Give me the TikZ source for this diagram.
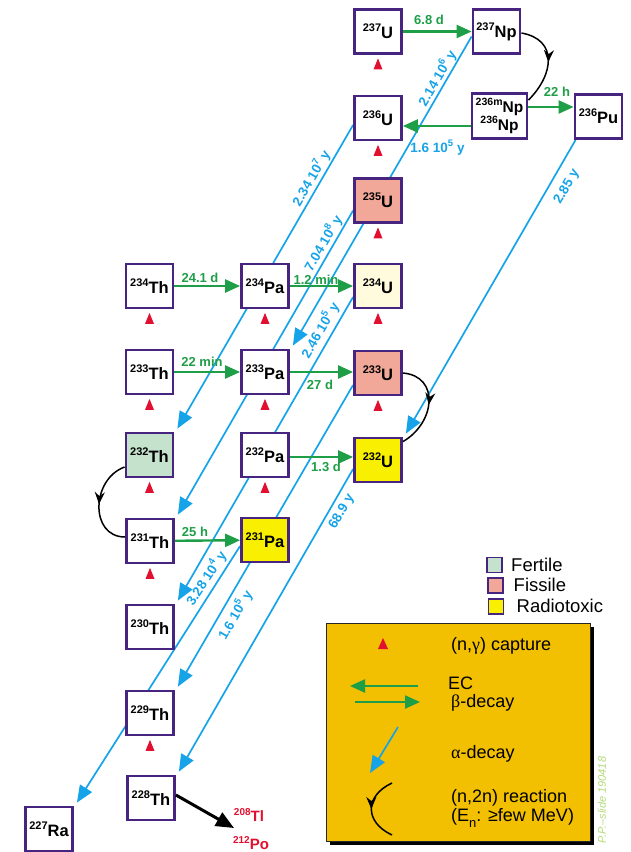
\documentclass[tikz,border=0pt]{standalone}
\usepackage{fontspec}
\setmainfont{Liberation Sans}
\newfontfamily\grk{Liberation Serif}
\usetikzlibrary{arrows.meta,calc,decorations.markings,shadows}
\pgfdeclarelayer{background}
\pgfsetlayers{background,main}

\definecolor{boxpurple}{RGB}{70,36,128}
\definecolor{fertile}{RGB}{197,226,204}
\definecolor{fissile}{RGB}{241,168,152}
\definecolor{cream}{RGB}{255,251,220}
\definecolor{toxic}{RGB}{248,240,0}
\definecolor{alphablue}{RGB}{22,163,232}
\definecolor{betagreen}{RGB}{30,158,70}
\definecolor{capred}{RGB}{226,16,48}
\definecolor{legorange}{RGB}{242,192,0}
\definecolor{slidegreen}{RGB}{178,218,120}

\newcommand{\iso}[3][11]{\raisebox{0.42em}{\fontsize{#1}{#1}\selectfont #2}#3}
\newcommand{\expo}[1]{\raisebox{0.45em}{\fontsize{9.5}{9.5}\selectfont #1}}
\newcommand{\captri}[1]{\fill[capred] ($(#1.south)+(0,-3.5)$) -- ++(4.5,-11) -- ++(-9,0) -- cycle;}

\begin{document}
\begin{tikzpicture}[x=1pt,y=1pt,
  box/.style={draw=boxpurple, line width=2.8pt, fill=white, minimum width=47pt,
    minimum height=44pt, inner sep=0pt, font=\fontsize{16.5}{16.5}\selectfont\bfseries},
  beta/.style={draw=betagreen, line width=2.4pt, -{Triangle[length=15pt,width=13pt]}},
  alpha/.style={draw=alphablue, line width=1.7pt, -{Triangle[length=17pt,width=14pt]}},
  blab/.style={text=alphablue, font=\fontsize{13.5}{13.5}\selectfont\bfseries, inner sep=0pt},
  glab/.style={text=betagreen, font=\fontsize{13}{13}\selectfont\bfseries, inner sep=0pt},
  n2n/.style={draw=black, line width=1.5pt, postaction={decorate},
    decoration={markings, mark=at position 0.5 with {\arrow{Stealth[length=12pt,width=10pt,inset=4pt]}}}},
  legtext/.style={font=\fontsize{18}{18}\selectfont, anchor=west, inner sep=0pt},
  legbox/.style={draw=boxpurple, line width=1.2pt, minimum width=15pt, minimum height=15pt, inner sep=0pt},
]
\useasboundingbox (0,0) rectangle (630,-852);

% boxes
\node[box] (u237) at (378,-31.5) {\iso{237}{U}};
\node[box] (np237) at (496.5,-31.5) {\iso{237}{Np}};
\node[box] (u236) at (378,-118) {\iso{236}{U}};
\node[box, minimum width=55pt, minimum height=45pt, align=center,
  font=\fontsize{15.5}{17}\selectfont\bfseries] (np236) at (499.5,-116) {\iso[10.5]{236m}{Np}\\\iso[10.5]{236}{Np}};
\node[box] (pu236) at (598.5,-116.5) {\iso{236}{Pu}};
\node[box, fill=fissile] (u235) at (378,-200.5) {\iso{235}{U}};
\node[box] (th234) at (149.5,-286) {\iso{234}{Th}};
\node[box] (pa234) at (265,-286) {\iso{234}{Pa}};
\node[box, fill=cream] (u234) at (378,-286) {\iso{234}{U}};
\node[box] (th233) at (149.5,-372) {\iso{233}{Th}};
\node[box] (pa233) at (265,-372) {\iso{233}{Pa}};
\node[box, fill=fissile] (u233) at (378,-373) {\iso{233}{U}};
\node[box, fill=fertile] (th232) at (149.5,-455) {\iso{232}{Th}};
\node[box] (pa232) at (265,-455) {\iso{232}{Pa}};
\node[box, fill=toxic] (u232) at (378,-460) {\iso{232}{U}};
\node[box] (th231) at (150,-541) {\iso{231}{Th}};
\node[box, fill=toxic] (pa231) at (265,-540) {\iso{231}{Pa}};
\node[box] (th230) at (150,-627) {\iso{230}{Th}};
\node[box] (th229) at (150,-713) {\iso{229}{Th}};
\node[box] (th228) at (151,-798) {\iso{228}{Th}};
\node[box] (ra227) at (49,-829) {\iso{227}{Ra}};

% capture triangles
\captri{u237}\captri{u236}\captri{u235}
\captri{th234}\captri{pa234}\captri{u234}
\captri{th233}\captri{pa233}\captri{u233}
\captri{th232}\captri{pa232}
\captri{th231}\captri{th229}

% alpha decays
\begin{pgfonlayer}{background}
\draw[alpha] ($(np237.west)+(0,-5)$) -- ($(pa233.north east)+(3,3)$);
\draw[alpha] ($(u236.west)+(0,-7)$) -- ($(th232.north east)+(3,3)$);
\draw[alpha] ($(u235.west)+(0,-10)$) -- ($(th231.north east)+(3,3)$);
\draw[alpha] ($(u234.west)+(0,-11)$) -- ($(th230.north east)+(3,3)$);
\draw[alpha] ($(u233.west)+(0,-12)$) -- ($(th229.north east)+(3,3)$);
\draw[alpha] ($(u232.west)+(0,-9)$) -- ($(th228.north east)+(3,3)$);
\draw[alpha] ($(pu236.south west)+(2,0)$) -- ($(u232.north east)+(3,3)$);
\draw[alpha] ($(pa231.west)+(0,-6)$) -- ($(ra227.north east)+(3,3)$);
\end{pgfonlayer}

\node[blab, rotate=60] (l1) at (437,-78) {2.14 10\expo{6} y};
\node[blab, rotate=60] (l2) at (311,-178) {2.34 10\expo{7} y};
\node[blab, rotate=60] (l3) at (323,-243) {7.04 10\expo{8} y};
\node[blab, rotate=60] (l4) at (320,-330) {2.46 10\expo{5} y};
\node[blab, rotate=60] (l5) at (235,-615) {1.6 10\expo{5} y};
\node[blab, rotate=60] (l6) at (342,-512) {68.9 y};
\node[blab, rotate=60] (l7) at (567,-187) {2.85 y};
\node[blab, rotate=57] (l8) at (206,-578) {3.28 10\expo{4} y};
\node[blab] (l9) at (437.5,-147.5) {1.6 10\expo{5} y};

% beta decays / EC
\draw[beta] (u237) -- (np237);
\node[glab] (g1) at (429,-20) {6.8 d};
\draw[beta] ($(np236.east)+(0,9)$) -- ($(pu236.west)+(0,9.5)$);
\node[glab] (g2) at (557,-92) {22 h};
\coordinate (ecs) at ($(np236.west)+(0,-10)$);
\draw[beta] (ecs) -- (ecs -| u236.east);
\draw[beta] (th234) -- (pa234);
\node[glab] (g3) at (200,-278) {24.1 d};
\draw[beta] (pa234) -- (u234);
\node[glab] (g4) at (316,-280) {1.2 min};
\draw[beta] (th233) -- (pa233);
\node[glab] (g5) at (202,-362) {22 min};
\draw[beta] (pa233) -- (pa233 -| u233.west);
\node[glab] (g6) at (320,-385) {27 d};
\draw[beta] ($(pa232.east)+(0,-2)$) -- ($(pa232.east -| u232.west)+(0,-2)$);
\node[glab] (g7) at (326,-467) {1.3 d};
\draw[beta] (th231) -- (pa231);
\node[glab] (g8) at (195,-532) {25 h};

% (n,2n)
\draw[n2n] ($(np237.east)+(0,-1.5)$) to[out=-10,in=45,looseness=1.4] ($(np236.north east)+(0,-8)$);
\draw[n2n] (u233.east) to[out=-5,in=30,looseness=1.4] ($(u232.north east)+(0,-5)$);
\draw[n2n] ($(th232.west)+(0,-12)$) to[out=200,in=180,looseness=1.3] ($(th231.west)+(0,4)$);

% 228Th decay products
\node[text=capred, font=\fontsize{15}{15}\selectfont\bfseries, inner sep=0pt] (tl) at (249,-815) {\iso[10]{208}{Tl}};
\node[text=capred, font=\fontsize{15}{15}\selectfont\bfseries, inner sep=0pt] (po) at (251,-843) {\iso[10]{212}{Po}};
\coordinate (tltip) at (234,-828);
\draw[line width=3pt, -{Triangle[length=18pt,width=15pt]}] ($(th228.east)+(0,3)$) -- (tltip);

% legend colour keys
\node[legbox, fill=fertile] (kf) at (494.5,-565) {};
\node[legbox, fill=fissile] (ks) at (495.5,-585.5) {};
\node[legbox, fill=toxic] (kr) at (496,-606.5) {};
\node[legtext, font=\fontsize{18.5}{18.5}\selectfont] (tf) at (511,-565) {Fertile};
\node[legtext, font=\fontsize{18.5}{18.5}\selectfont] (ts) at (513.5,-585) {Fissile};
\node[legtext, font=\fontsize{18.5}{18.5}\selectfont] (tr) at (516.5,-605.5) {Radiotoxic};

% legend frame
\node[draw=black!85, line width=0.8pt, fill=legorange, minimum width=264pt, minimum height=218pt,
  drop shadow={fill=black, opacity=1, shadow xshift=3.5pt, shadow yshift=-3.5pt}] (leg) at (458.5,-732.5) {};
\fill[capred] (383,-638) -- (388,-649) -- (378,-649) -- cycle;
\node[legtext] (t1) at (451,-645.5) {(n,{\grk γ}) capture};
\coordinate (ec1) at (418,-686);
\coordinate (ec2) at (350,-686);
\coordinate (bd1) at (355,-702);
\coordinate (bd2) at (420,-702);
\draw[beta] (ec1) -- (ec2);
\draw[beta] (bd1) -- (bd2);
\node[legtext] (t2) at (448,-683) {EC};
\node[legtext] (t3) at (451,-703) {{\grk β}-decay};
\coordinate (ad1) at (398,-727);
\coordinate (ad2) at (370,-773);
\draw[alpha] (ad1) -- (ad2);
\node[legtext] (t4) at (451,-754) {{\grk α}-decay};
\coordinate (nn1) at (392,-783);
\coordinate (nn2) at (392,-835);
\draw[n2n] (nn1) to[out=205,in=155,looseness=1.5] (nn2);
\node[legtext] (t5) at (451,-797.5) {(n,2n) reaction};
\node[legtext] (t6) at (451,-818) {(E\raisebox{-0.3em}{\fontsize{13}{13}\selectfont n}: ≥few MeV)};

% slide tag
\node[rotate=90, text=slidegreen, font=\fontsize{11}{11}\selectfont\itshape, inner sep=0pt] (wm) at (602,-800) {P.P.–slide 190418};
\end{tikzpicture}
\end{document}
